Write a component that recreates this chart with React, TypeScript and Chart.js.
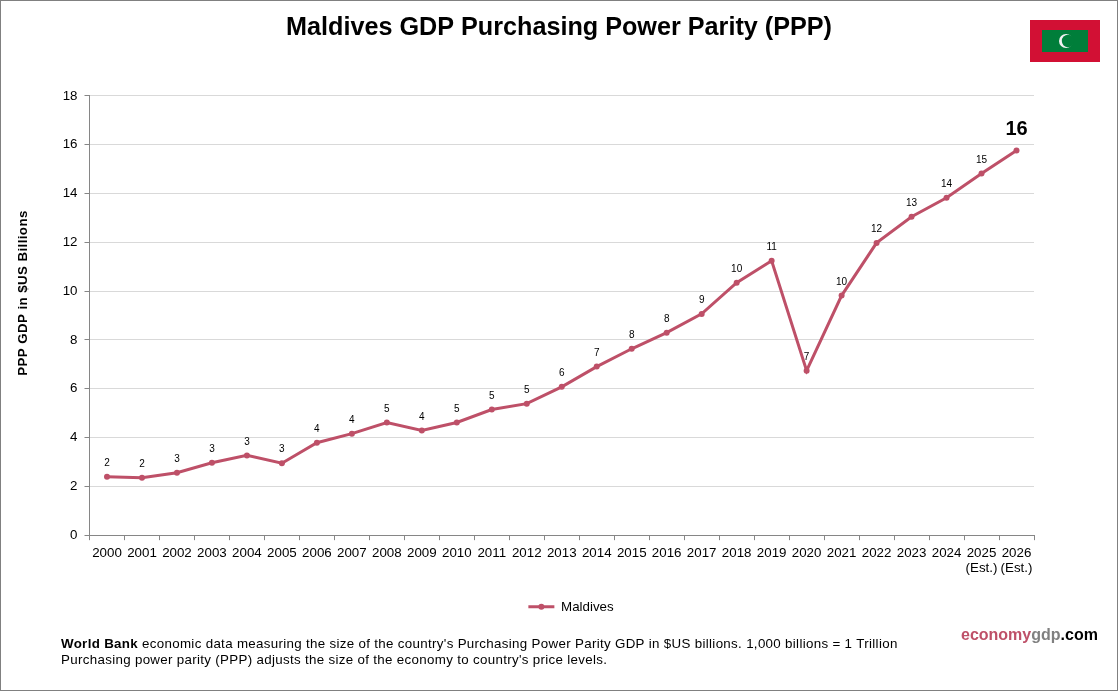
import React, { useEffect, useRef } from "react";
import { Chart, registerables } from "chart.js";

Chart.register(...registerables);

const years = ["2000","2001","2002","2003","2004","2005","2006","2007","2008","2009","2010","2011","2012","2013","2014","2015","2016","2017","2018","2019","2020","2021","2022","2023","2024",["2025","(Est.)"],["2026","(Est.)"]];
const gdpValues = [2.39,2.35,2.56,2.97,3.27,2.95,3.79,4.16,4.62,4.29,4.62,5.15,5.39,6.08,6.91,7.64,8.3,9.07,10.35,11.25,6.74,9.82,11.98,13.05,13.83,14.82,15.77];
const valueLabels = ["2","2","3","3","3","3","4","4","5","4","5","5","5","6","7","8","8","9","10","11","7","10","12","13","14","15","16"];
const seriesName = "Maldives";
const titleText = "Maldives GDP Purchasing Power Parity (PPP)";
const yAxisTitle = "PPP GDP in $US Billions";
const LINE = "#BE5068";
const FONT = "'Liberation Sans', Arial, sans-serif";
const LEGEND_BOX = 26;

const overlay = {
  id: "overlay",
  afterLayout(chart: any) {
    // centre the title on the whole page and move the legend to its place
    const tb = chart.titleBlock;
    if (tb) { tb.left = 0; tb.right = 1118; }
    const lg = chart.legend;
    if (lg) {
      const dx = 54;
      lg.left += dx;
      lg.right += dx;
      lg.legendHitBoxes.forEach((h: any) => { h.left += dx; });
    }
  },
  afterDatasetsDraw(chart: any) {
    const { ctx } = chart;
    const meta = chart.getDatasetMeta(0);
    ctx.save();
    ctx.textAlign = "center";
    ctx.textBaseline = "middle";
    ctx.fillStyle = "#000";
    meta.data.forEach((pt: any, i: number) => {
      const last = i === meta.data.length - 1;
      ctx.font = last ? `bold 20px ${FONT}` : `10px ${FONT}`;
      ctx.fillText(valueLabels[i], pt.x, pt.y - (last ? 21 : 13.5));
    });
    ctx.restore();
  },
  afterDraw(chart: any) {
    const { ctx } = chart;
    ctx.save();
    // frame
    ctx.strokeStyle = "#808080";
    ctx.lineWidth = 1;
    ctx.strokeRect(0.5, 0.5, 1117, 690);
    // y title
    ctx.save();
    ctx.translate(23.5, 293);
    ctx.rotate(-Math.PI / 2);
    ctx.textAlign = "center";
    ctx.textBaseline = "middle";
    ctx.fillStyle = "#000";
    ctx.font = `bold 13.33px ${FONT}`;
    (ctx as any).letterSpacing = "0.4px";
    ctx.fillText(yAxisTitle, 0, 0);
    (ctx as any).letterSpacing = "0px";
    ctx.restore();
    // legend marker
    const hb = chart.legend?.legendHitBoxes?.[0];
    if (hb) {
      ctx.fillStyle = LINE;
      ctx.beginPath();
      ctx.arc(hb.left + LEGEND_BOX / 2, hb.top + hb.height / 2, 3, 0, Math.PI * 2);
      ctx.fill();
    }
    // flag
    ctx.fillStyle = "#D21034";
    ctx.fillRect(1030, 20, 70, 42);
    ctx.fillStyle = "#007E3A";
    ctx.fillRect(1042, 30, 46, 22);
    ctx.fillStyle = "#F2F2F2";
    ctx.beginPath();
    ctx.arc(1066, 41, 7, 0, Math.PI * 2);
    ctx.fill();
    ctx.fillStyle = "#007E3A";
    ctx.beginPath();
    ctx.arc(1068, 41, 6.2, 0, Math.PI * 2);
    ctx.fill();
    // footer
    ctx.textBaseline = "alphabetic";
    ctx.textAlign = "left";
    ctx.fillStyle = "#000";
    (ctx as any).letterSpacing = "0.32px";
    ctx.font = `bold 13.33px ${FONT}`;
    const bold = "World Bank";
    ctx.fillText(bold, 61, 648);
    const bw = ctx.measureText(bold).width;
    ctx.font = `13.33px ${FONT}`;
    ctx.fillText(" economic data measuring the size of the country's Purchasing Power Parity GDP in $US billions. 1,000 billions = 1 Trillion", 61 + bw, 648);
    ctx.fillText("Purchasing power parity (PPP) adjusts the size of the economy to country's price levels.", 61, 664);
    (ctx as any).letterSpacing = "0px";
    // brand
    ctx.font = `bold 16px ${FONT}`;
    let x = 961;
    const parts: [string, string][] = [["economy", "#BE5068"], ["gdp", "#808080"], [".com", "#000"]];
    for (const [t, c] of parts) {
      ctx.fillStyle = c;
      ctx.fillText(t, x, 640);
      x += ctx.measureText(t).width;
    }
    ctx.restore();
  },
};

export default function App() {
  const ref = useRef<HTMLCanvasElement>(null);
  useEffect(() => {
    document.body.style.margin = "0";
    const chart = new Chart(ref.current!, {
      type: "line",
      data: {
        labels: years as any,
        datasets: [{
          label: seriesName,
          data: gdpValues,
          borderColor: LINE,
          backgroundColor: LINE,
          borderWidth: 3,
          pointRadius: 3,
          pointBackgroundColor: LINE,
          pointBorderColor: LINE,
          pointBorderWidth: 0,
          tension: 0,
          clip: false,
        } as any],
      },
      options: {
        animation: false,
        responsive: false,
        devicePixelRatio: 1,
        layout: { padding: { left: 0, right: 84, top: 0, bottom: 67.5 } },
        plugins: {
          title: {
            display: true,
            text: titleText,
            color: "#000",
            font: { family: FONT, size: 25.2, weight: "bold" },
            padding: { top: 12.5, bottom: 53.26 },
          },
          legend: {
            display: true,
            position: "bottom",
            labels: {
              boxWidth: LEGEND_BOX,
              boxHeight: 3,
              color: "#000",
              font: { family: FONT, size: 13.33 },
              padding: 10,
              generateLabels: () => [{ text: seriesName, fillStyle: LINE, strokeStyle: LINE, lineWidth: 0, datasetIndex: 0 }],
            },
          },
          tooltip: { enabled: false },
        },
        scales: {
          x: {
            offset: true,
            grid: { display: true, offset: true, drawOnChartArea: false, color: "#868686", tickLength: 5, tickColor: "#868686" },
            border: { color: "#868686" },
            ticks: { color: "#000", font: { family: FONT, size: 13.33, lineHeight: 1.15 }, autoSkip: false, maxRotation: 0, minRotation: 0, padding: 5 },
            afterFit(s: any) { s.height = 55; },
          },
          y: {
            min: 0,
            max: 18,
            grid: { color: "#D9D9D9", tickLength: 5, tickColor: "#868686" },
            border: { color: "#868686" },
            ticks: { stepSize: 2, color: "#000", font: { family: FONT, size: 13.33 }, padding: 7 },
            afterFit(s: any) { s.width = 89.5; },
          },
        },
      } as any,
      plugins: [overlay],
    });
    return () => chart.destroy();
  }, []);
  return <canvas ref={ref} width={1118} height={691} style={{ display: "block", width: 1118, height: 691 }} />;
}
